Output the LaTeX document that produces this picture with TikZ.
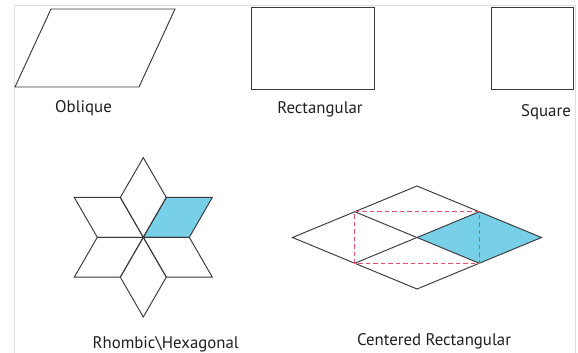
\documentclass[tikz,border=0pt]{standalone}
\usepackage{fontspec}
\setmainfont{PT Sans}
\usetikzlibrary{calc}
\definecolor{edge}{HTML}{3A3A3A}
\definecolor{cellblue}{HTML}{78CFE8}
\definecolor{dashred}{HTML}{E8506A}
\definecolor{framegray}{HTML}{DDDDDD}
\tikzset{
  outline/.style={draw=edge, line width=0.95pt, line join=miter},
  cell/.style={fill=cellblue, draw=none},
  guide/.style={draw=dashred, line width=1.2pt, dash pattern=on 4.5pt off 3pt},
  caption/.style={anchor=base, inner sep=0pt, font=\fontsize{16.8}{20}\selectfont, text=black!88}
}
\begin{document}
\begin{tikzpicture}[x=1pt, y=-1pt]
  \useasboundingbox (0,0) rectangle (578,353);
  % faint page frame
  \draw[framegray, line width=0.9pt] (14,353) -- (14,5) -- (575,5) -- (575,353);

  % ---- oblique cell
  \coordinate (o1) at (15,87);
  \coordinate (o2) at (139,87);
  \coordinate (o3) at (175,9);
  \coordinate (o4) at (51,9);
  \draw[outline] (o1) -- (o2) -- (o3) -- (o4) -- cycle;
  \node[caption] (lobl) at (83.5,112.5) {Oblique};

  % ---- rectangular cell
  \coordinate (r1) at (251,7);
  \coordinate (r2) at (374,89);
  \draw[outline] (r1) rectangle (r2);
  \node[caption] (lrect) at (320,113) {Rectangular};

  % ---- square cell
  \coordinate (q1) at (491,7);
  \coordinate (q2) at (573,89);
  \draw[outline] (q1) rectangle (q2);
  \node[caption] (lsq) at (546,116.5) {Square};

  % ---- hexagonal star of six 60-degree rhombi
  \coordinate (S) at (143.3,237.3);
  \def\side{46}
  \fill[cell] (S) -- ($(S)+(-60:\side)$) -- ($(S)+(-30:{\side*1.7320508})$) -- ($(S)+(0:\side)$) -- cycle;
  \foreach \a in {90,30,-30,-90,-150,150}{
    \draw[outline] (S) -- ($(S)+({\a-30}:\side)$) -- ($(S)+(\a:{\side*1.7320508})$) -- ($(S)+({\a+30}:\side)$) -- cycle;
  }
  \node[caption] (lhex) at (165.7,348) {Rhombic\textbackslash Hexagonal};

  % ---- centred rectangular lattice
  \coordinate (L) at (292.5,237.5);
  \coordinate (T) at (417,186);
  \coordinate (R) at (541.5,237.5);
  \coordinate (B) at (417,289);
  \coordinate (C) at (417,237.5);
  \coordinate (ul) at ($(L)!0.5!(T)$);
  \coordinate (ur) at ($(T)!0.5!(R)$);
  \coordinate (lr) at ($(R)!0.5!(B)$);
  \coordinate (ll) at ($(B)!0.5!(L)$);
  \fill[cell] (C) -- (ur) -- (R) -- (lr) -- cycle;
  \draw[outline] (L) -- (T) -- (R) -- (B) -- cycle;
  \draw[outline] (ul) -- (lr);
  \draw[outline] (ll) -- (ur);
  \draw[guide] (ul) -- (ur) -- (lr) -- (ll) -- cycle;
  \node[caption] (lcen) at (434,345) {Centered Rectangular};
\end{tikzpicture}
\end{document}
